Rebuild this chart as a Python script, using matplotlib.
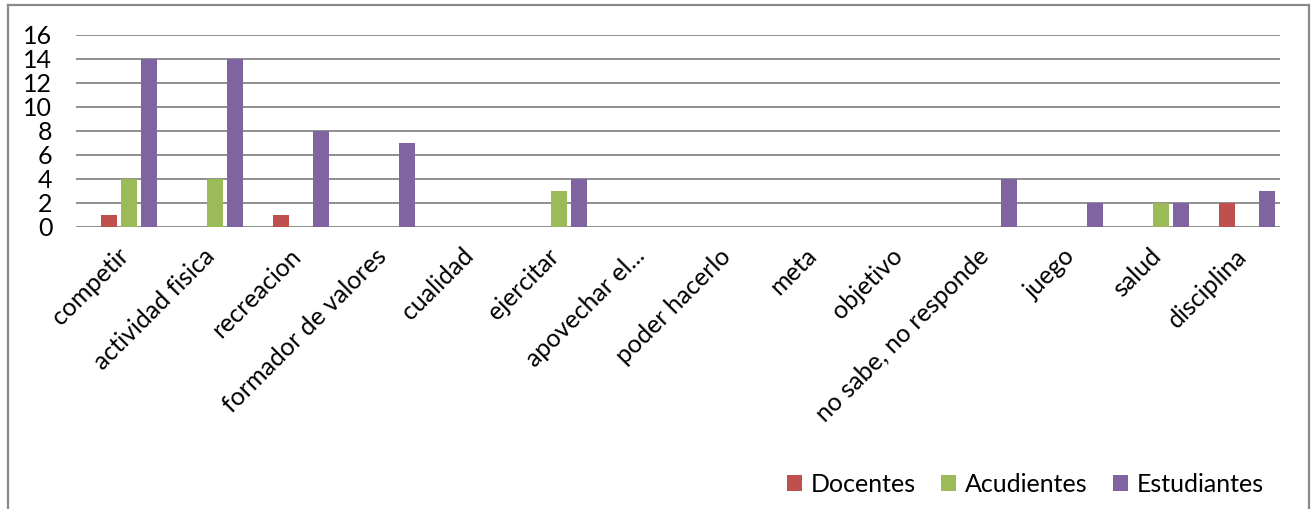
import numpy as np
import matplotlib
matplotlib.use('Agg')
import matplotlib.pyplot as plt
from matplotlib.lines import Line2D
from matplotlib.transforms import ScaledTranslation

# data
categorias = ['competir', 'actividad fisica', 'recreacion', 'formador de valores',
              'cualidad', 'ejercitar', 'apovechar el...', 'poder hacerlo', 'meta',
              'objetivo', 'no sabe, no responde', 'juego', 'salud', 'disciplina']
docentes = [1, 0, 1, 0, 0, 0, 0, 0, 0, 0, 0, 0, 0, 2]
acudientes = [4, 4, 0, 0, 0, 3, 0, 0, 0, 0, 0, 0, 2, 0]
estudiantes = [14, 14, 8, 7, 0, 4, 0, 0, 0, 0, 4, 2, 2, 3]
series = ['Docentes', 'Acudientes', 'Estudiantes']
colores = ['#C0504D', '#9BBB59', '#8064A2']
yticks = np.arange(0, 17, 2)

plt.rcParams['font.family'] = ['Lato', 'DejaVu Sans']

W, H = 1311, 509
fig = plt.figure(figsize=(W/100, H/100), dpi=100)
ax = fig.add_axes([76/W, 1-227/H, (1280-76)/W, (227-35)/H])

x = np.arange(len(categorias))
bw = 0.186
step = 0.233
for i, (vals, nom, col) in enumerate(zip([docentes, acudientes, estudiantes], series, colores)):
    ax.bar(x + (i-1)*step, vals, width=bw, color=col, label=nom, linewidth=0, zorder=3)

ax.set_ylim(0, 16)
ax.set_xlim(-0.616, 13.384)
ax.set_yticks(yticks)
ax.set_yticklabels([str(v) for v in yticks], fontsize=18)
ax.yaxis.grid(True, color='#868686', linewidth=1.3, zorder=0)
ax.set_axisbelow(True)
ax.tick_params(axis='y', length=0, pad=17)
ax.tick_params(axis='x', length=0, pad=8)
ax.set_xticks(x)
ax.set_xticklabels(categorias, rotation=45, ha='right', rotation_mode='anchor', fontsize=18)
shift = ScaledTranslation(-12/100, -6/100, fig.dpi_scale_trans)
for lab in ax.get_xticklabels():
    lab.set_transform(lab.get_transform() + shift)
for s in ax.spines.values():
    s.set_visible(False)

# outer chart border (left, top, right)
bc = '#8A8A8A'
fig.add_artist(Line2D([8/W, 8/W], [0, 1-5/H], color=bc, lw=1.6, transform=fig.transFigure))
fig.add_artist(Line2D([8/W, 1309/W], [1-5/H, 1-5/H], color=bc, lw=1.6, transform=fig.transFigure))
fig.add_artist(Line2D([1309/W, 1309/W], [0, 1-5/H], color=bc, lw=1.6, transform=fig.transFigure))

leg = fig.legend(loc='center right', bbox_to_anchor=(1276/W, 1-484/H), ncol=3,
                 frameon=False, fontsize=18, handlelength=0.6, handleheight=0.6,
                 handletextpad=0.35, columnspacing=1.0, borderpad=0)

fig.savefig('out.png', dpi=100)
